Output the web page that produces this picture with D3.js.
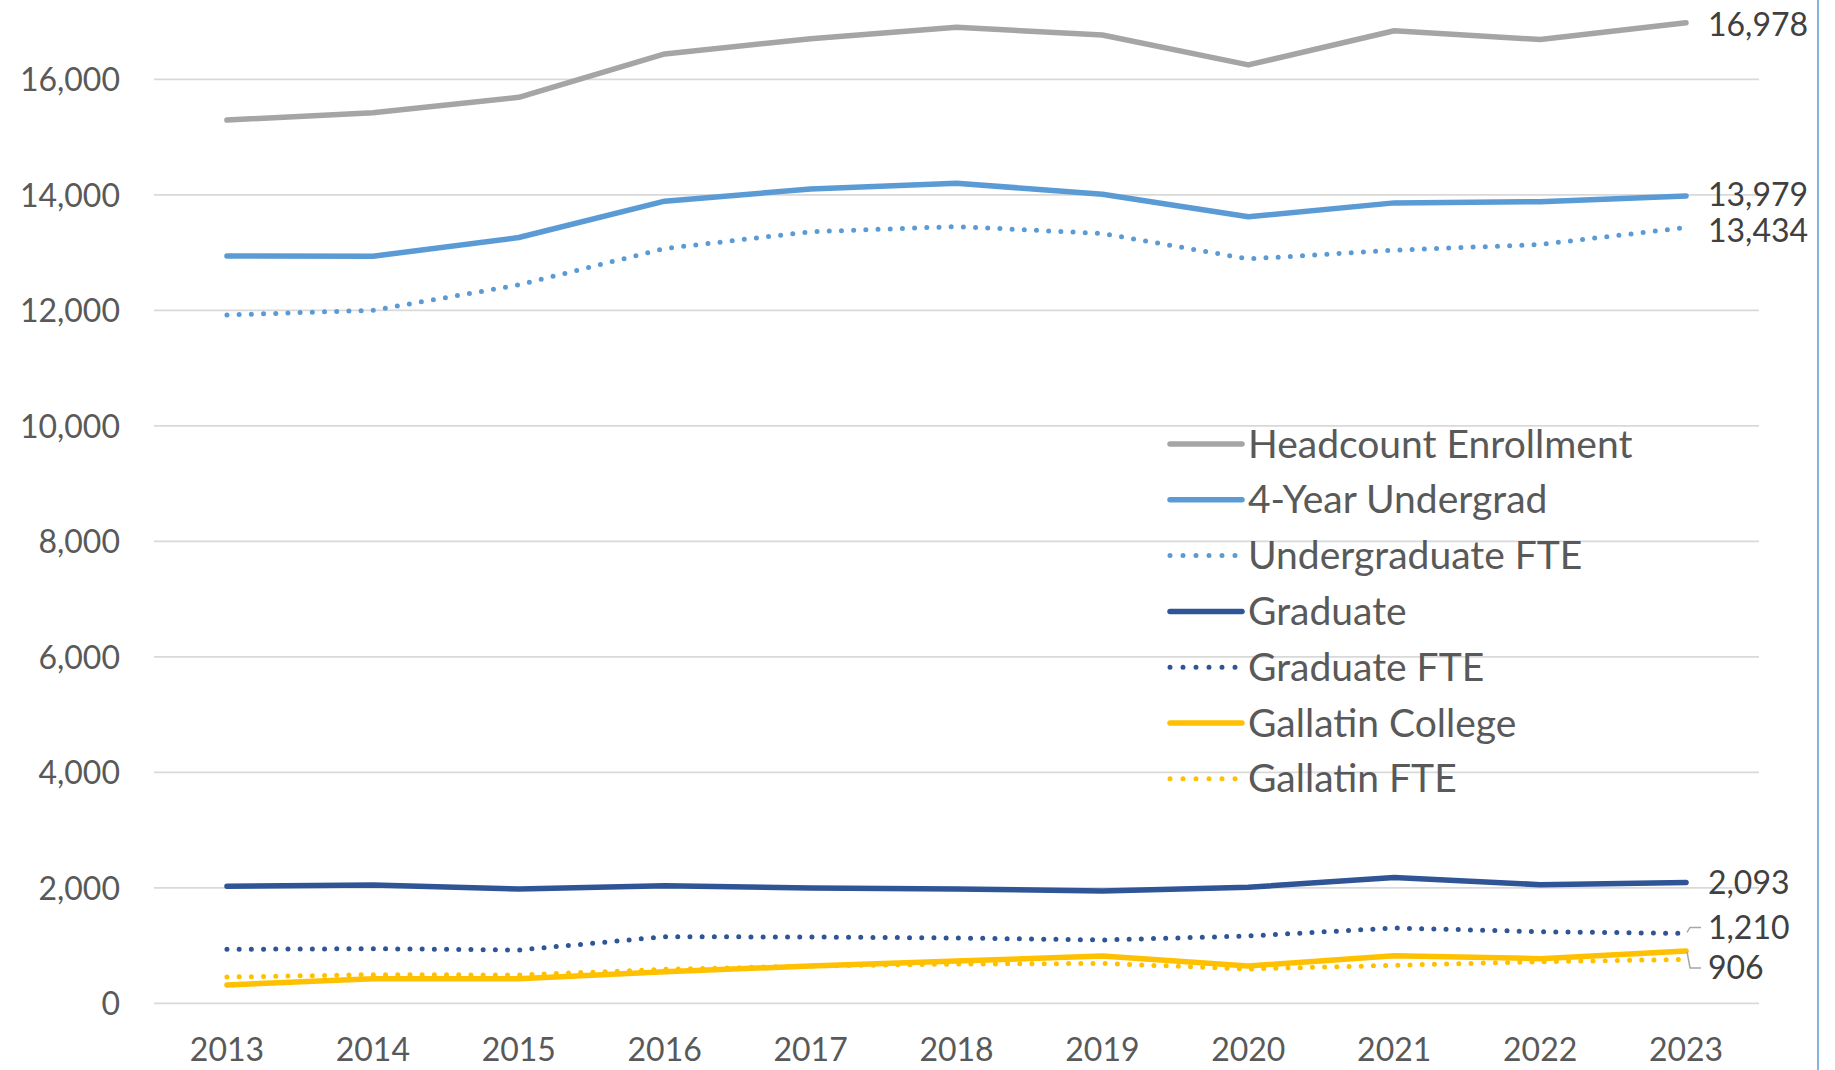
<!DOCTYPE html>
<html>
<head>
<meta charset="utf-8">
<script src="https://cdn.jsdelivr.net/npm/d3@7"></script>
<style>
  html, body { margin: 0; padding: 0; background: #fff; }
  svg { display: block; font-family: Lato, "Open Sans", sans-serif; }
</style>
</head>
<body>
<div id="chart"></div>
<script>
// values
const years = ['2013', '2014', '2015', '2016', '2017', '2018', '2019', '2020', '2021', '2022', '2023'];
const headcount = [15294, 15421, 15688, 16440, 16703, 16902, 16766, 16249, 16841, 16688, 16978];
const undergrad4yr = [12940, 12936, 13260, 13890, 14100, 14200, 14010, 13620, 13860, 13880, 13979];
const undergradFte = [11920, 12000, 12440, 13070, 13360, 13450, 13330, 12890, 13040, 13140, 13434];
const graduate = [2026, 2048, 1979, 2037, 1997, 1979, 1944, 2008, 2180, 2054, 2093];
const graduateFte = [935, 946, 923, 1153, 1148, 1131, 1097, 1165, 1304, 1240, 1210];
const gallatin = [317, 426, 424, 548, 646, 732, 819, 646, 825, 773, 906];
const gallatinFte = [455, 496, 490, 588, 646, 680, 690, 594, 658, 720, 760];
const yTicks = [0, 2000, 4000, 6000, 8000, 10000, 12000, 14000, 16000];

const series = [
  {name: 'Headcount Enrollment', values: headcount, color: '#a5a5a5', dotted: false, label: true},
  {name: '4-Year Undergrad', values: undergrad4yr, color: '#5b9bd5', dotted: false, label: true},
  {name: 'Undergraduate FTE', values: undergradFte, color: '#5b9bd5', dotted: true, label: true},
  {name: 'Graduate', values: graduate, color: '#2f5597', dotted: false, label: true},
  {name: 'Graduate FTE', values: graduateFte, color: '#2f5597', dotted: true, label: true, leader: -1},
  {name: 'Gallatin College', values: gallatin, color: '#ffc000', dotted: false, label: true, leader: 1},
  {name: 'Gallatin FTE', values: gallatinFte, color: '#ffc000', dotted: true, label: false},
];

const W = 1835;
const H = 1070;

const svg = d3.select('#chart')
    .append('svg')
    .attr('width', W)
    .attr('height', H);

const xBand = d3.scaleBand()
    .domain(years)
    .range([154, 1759])
    .padding(0);
const xPos = (yr) => xBand(yr) + xBand.bandwidth() / 2;

const yScale = d3.scaleLinear()
    .domain([0, 16000])
    .range([1003.3, 79.3]);

// gridlines
svg.append('g')
    .selectAll('line')
    .data(yTicks)
    .enter()
    .append('line')
    .attr('x1', 154)
    .attr('x2', 1759)
    .attr('y1', (d) => yScale(d))
    .attr('y2', (d) => yScale(d))
    .attr('stroke', '#d9d9d9')
    .attr('stroke-width', 1.8);

// y axis labels
const yAxis = svg.append('g')
    .attr('transform', 'translate(120, 0)')
    .call(d3.axisLeft(yScale).tickValues(yTicks).tickSize(0).tickPadding(0)
        .tickFormat(d3.format(',')));
yAxis.select('.domain').remove();
yAxis.selectAll('text')
    .attr('fill', '#595959')
    .style('font-size', '32px')
    .style('font-family', 'Lato, sans-serif')
    .attr('dy', '0.35em');

// x axis labels
const xAxis = svg.append('g')
    .attr('transform', 'translate(0, 1003.3)')
    .call(d3.axisBottom(xBand).tickSize(0).tickPadding(0));
xAxis.select('.domain').remove();
xAxis.selectAll('text')
    .attr('fill', '#595959')
    .attr('y', 47)
    .attr('dy', '0.35em')
    .style('font-size', '32px')
    .style('font-family', 'Lato, sans-serif');

const line = d3.line()
    .x((d, i) => xPos(years[i]))
    .y((d) => yScale(d));

// lines
svg.append('g')
    .selectAll('path')
    .data(series)
    .enter()
    .append('path')
    .attr('d', (s) => line(s.values))
    .attr('fill', 'none')
    .attr('stroke', (s) => s.color)
    .attr('stroke-width', (s) => s.dotted ? 5 : 5.5)
    .attr('stroke-linecap', 'round')
    .attr('stroke-linejoin', 'round')
    .attr('stroke-dasharray', (s) => s.dotted ? '0 12.2' : null);

// end-of-line data labels
const lastYear = years[years.length - 1];
const labelOffsets = {
  'Headcount Enrollment': 2,
  '4-Year Undergrad': -1,
  'Undergraduate FTE': 3,
  'Graduate': 0,
  'Graduate FTE': -6,
  'Gallatin College': 17,
};
const labelled = series.filter((s) => s.label);
labelled.forEach((s) => {
  const v = s.values[s.values.length - 1];
  const y = yScale(v) + labelOffsets[s.name];
  svg.append('text')
      .attr('x', 1708)
      .attr('y', y)
      .attr('dy', '0.35em')
      .attr('fill', '#404040')
      .style('font-size', '32px')
      .text(d3.format(',')(v));
  if (s.leader) {
    const x0 = xPos(lastYear) + 1;
    const y0 = yScale(v) + s.leader * 1;
    svg.append('path')
        .attr('d', `M${x0},${y0} L${x0 + 3},${y} L${x0 + 14},${y}`)
        .attr('fill', 'none')
        .attr('stroke', '#a6a6a6')
        .attr('stroke-width', 1.5);
  }
});

// legend
const legend = svg.append('g')
    .attr('transform', 'translate(1170, 444)');
const row = legend.selectAll('g')
    .data(series)
    .enter()
    .append('g')
    .attr('transform', (d, i) => `translate(0, ${i * 55.8})`);
row.append('line')
    .attr('x1', 0)
    .attr('x2', (s) => s.dotted ? 66 : 72)
    .attr('stroke', (s) => s.color)
    .attr('stroke-width', (s) => s.dotted ? 5 : 5.5)
    .attr('stroke-linecap', 'round')
    .attr('stroke-dasharray', (s) => s.dotted ? '0 13' : null);
row.append('text')
    .attr('x', 78)
    .attr('dy', '0.35em')
    .attr('fill', '#595959')
    .style('font-size', '39px')
    .text((s) => s.name);

// right border of the chart frame
svg.append('line')
    .attr('x1', 1818)
    .attr('x2', 1818)
    .attr('y1', 0)
    .attr('y2', H)
    .attr('stroke', '#5b9bd5')
    .attr('stroke-width', 1.5);
</script>
</body>
</html>
